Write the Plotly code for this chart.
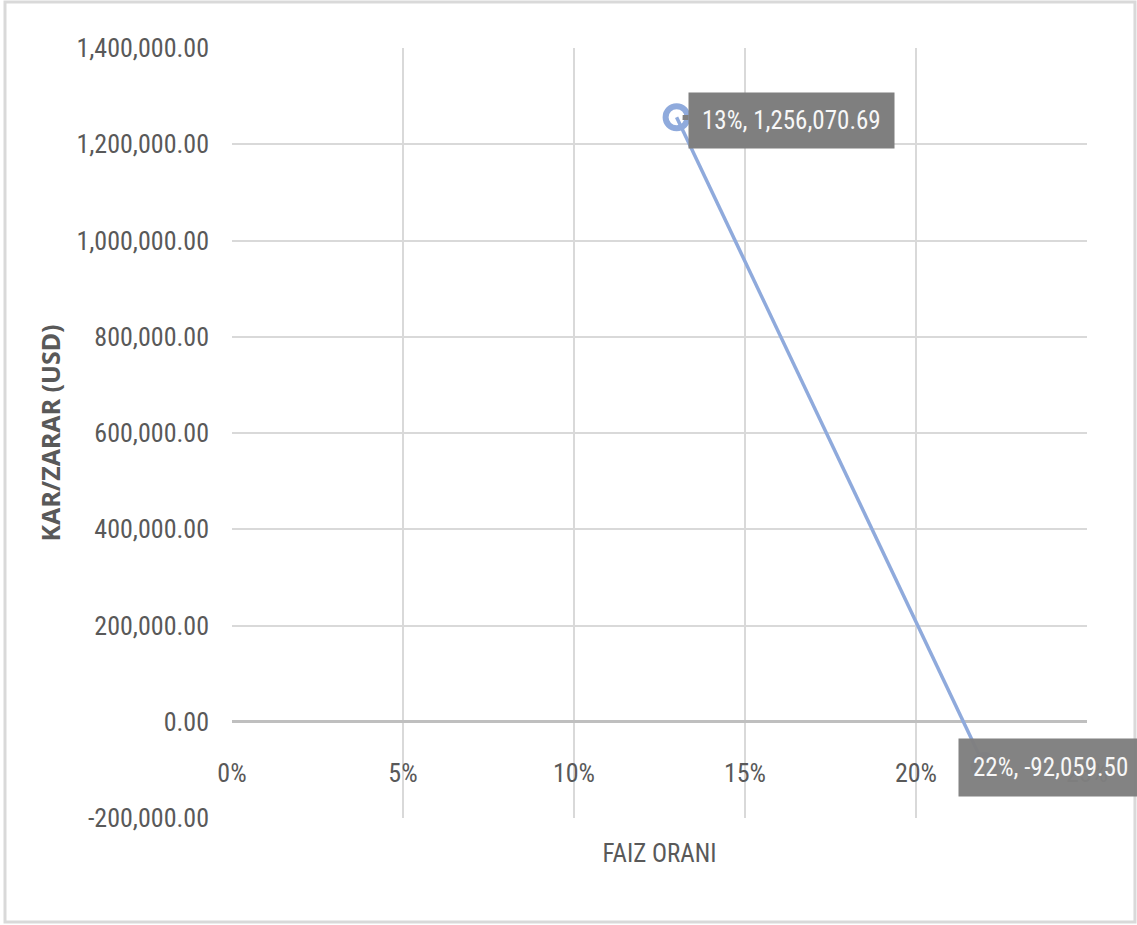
import plotly.graph_objects as go

# Interest rate vs. profit/loss (two scenarios)
rates = [0.13, 0.22]
profit = [1256070.69, -92059.50]
rate_labels = ["13%", "22%"]
profit_labels = ["1,256,070.69", "-92,059.50"]

y_ticks = [-200000, 0, 200000, 400000, 600000, 800000, 1000000, 1200000, 1400000]
y_ticktext = [f"{v:,.2f}" for v in y_ticks]
x_ticks = [0, 0.05, 0.10, 0.15, 0.20, 0.25]

NARROW = "Liberation Sans Narrow, Arial Narrow, Roboto Condensed, sans-serif"
GRID = "#d9d9d9"
TEXT = "#595959"
LINE = "#8faadc"

fig = go.Figure()
# invisible carrier on the base axis so its grid and title are drawn
fig.add_trace(go.Scatter(
    x=rates, y=profit, xaxis="x", yaxis="y", mode="none",
    hoverinfo="skip", showlegend=False,
))
fig.add_trace(go.Scatter(
    x=rates, y=profit, xaxis="x2", yaxis="y",
    mode="lines+markers",
    line=dict(color=LINE, width=3.5),
    marker=dict(symbol="circle-open", size=22, color=LINE, line=dict(width=6, color=LINE)),
    hoverinfo="skip", showlegend=False,
))

# data labels
offsets = [(115, 3, True), (66, -1, False)]
for xv, yv, rl, pl, (dx, dy, arrow) in zip(rates, profit, rate_labels, profit_labels, offsets):
    if arrow:
        fig.add_annotation(
            x=xv, y=yv, xref="x2", yref="y", text=f"{rl}, {pl}",
            showarrow=True, ax=dx, ay=dy, axref="pixel", ayref="pixel",
            arrowhead=0, arrowwidth=5, arrowcolor="#7f7f7f", standoff=6,
            bgcolor="#7f7f7f", borderpad=13,
            font=dict(family=NARROW, size=25, color="#f7f7f7"),
        )
    else:
        fig.add_annotation(
            x=xv, y=yv, xref="x2", yref="y", text=f"{rl}, {pl}",
            showarrow=False, xshift=dx, yshift=dy,
            bgcolor="rgba(127,127,127,0.97)", borderpad=14,
            font=dict(family=NARROW, size=25, color="#f7f7f7"),
        )

# outer chart border
fig.add_shape(type="rect", xref="paper", yref="paper",
              x0=-0.2655, x1=1.0561, y0=-0.1351, y1=1.0597,
              line=dict(color="#d9d9d9", width=3), layer="below")

fig.update_layout(
    width=1137, height=925,
    margin=dict(l=232, r=50, t=48, b=107),
    paper_bgcolor="white", plot_bgcolor="white",
    font=dict(family=NARROW, color=TEXT),
    xaxis=dict(
        range=[0, 0.25], tickvals=x_ticks, showticklabels=False,
        showgrid=True, gridcolor=GRID, gridwidth=2, zeroline=False,
        showline=False, anchor="y", ticks="",
        title=dict(text="FAIZ ORANI", standoff=26,
                   font=dict(family=NARROW, size=25, color=TEXT)),
    ),
    xaxis2=dict(
        range=[0, 0.25], tickvals=x_ticks, tickformat=".0%",
        overlaying="x", anchor="free", position=0.125,
        showgrid=False, zeroline=False, showline=False,
        ticks="", ticklabelstandoff=33,
        tickfont=dict(family=NARROW, size=26, color=TEXT),
    ),
    yaxis=dict(
        range=[-200000, 1400000], tickvals=y_ticks, ticktext=y_ticktext,
        showgrid=True, gridcolor=GRID, gridwidth=2,
        zeroline=True, zerolinecolor="#bfbfbf", zerolinewidth=3,
        ticks="", ticklabelstandoff=22,
        tickfont=dict(family=NARROW, size=26, color=TEXT),
        title=dict(text="KAR/ZARAR (USD)", standoff=8,
                   font=dict(family="Noto Sans", size=25, color=TEXT, weight="bold")),
    ),
)

fig.write_html("out.html")
